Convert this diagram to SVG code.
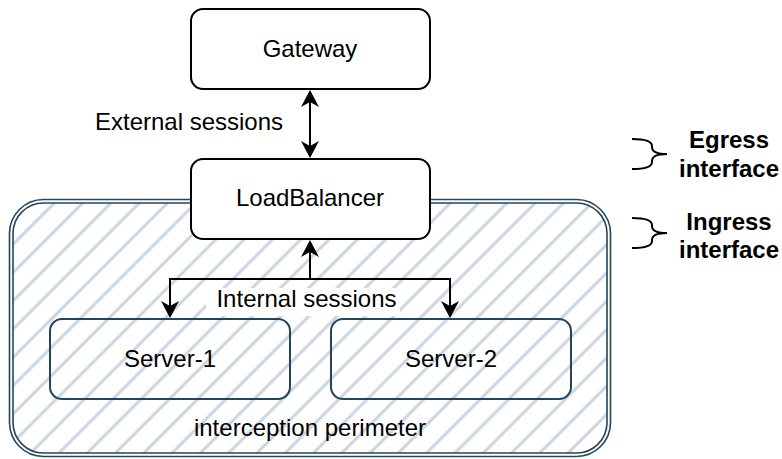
<svg xmlns="http://www.w3.org/2000/svg" width="782" height="459" viewBox="0 0 782 459">
<style>
.t{font-family:"Liberation Sans",Arial,sans-serif;font-size:24px;fill:#000;text-anchor:middle}
.b{font-weight:bold}
.box{fill:#fff;stroke:#000;stroke-width:2}
.srv{fill:none;stroke:#23445d;stroke-width:2}
.per{fill:none;stroke:#23445d;stroke-width:1.6}
.con{fill:none;stroke:#000;stroke-width:2}
.br{fill:none;stroke:#000;stroke-width:2}
</style>
<defs>
<pattern id="hatch" patternUnits="userSpaceOnUse" width="20" height="20" patternTransform="rotate(45)">
<line x1="2" y1="0" x2="2" y2="20" stroke="#c8d4df" stroke-width="3"/>
</pattern>
<marker id="arr" viewBox="0 -9 17 18" refX="5" refY="0" markerWidth="17" markerHeight="18" markerUnits="userSpaceOnUse" orient="auto-start-reverse">
<path d="M17,0 L0,-9 L5,0 L0,9 Z" fill="#000"/>
</marker>
</defs>
<rect width="782" height="459" fill="#fff"/>
<g id="perimeter">
<rect x="13" y="203" width="594" height="250" rx="30.5" fill="url(#hatch)"/>
<rect class="per" x="9.5" y="199.5" width="601" height="257" rx="34"/>
<rect class="per" x="13" y="203" width="594" height="250" rx="30.5"/>
<text class="t" x="310" y="436">interception perimeter</text>
</g>
<g id="gateway">
<rect class="box" x="191" y="9" width="239" height="80" rx="12"/>
<text class="t" x="310" y="57">Gateway</text>
</g>
<g id="loadbalancer">
<rect class="box" x="191" y="159" width="239" height="80" rx="12"/>
<text class="t" x="310" y="206">LoadBalancer</text>
</g>
<g id="server-1">
<rect class="srv" x="50" y="319" width="240" height="80" rx="12"/>
<text class="t" x="170" y="367">Server-1</text>
</g>
<g id="server-2">
<rect class="srv" x="331" y="319" width="240" height="80" rx="12"/>
<text class="t" x="451" y="367">Server-2</text>
</g>
<g id="connectors">
<path class="con" d="M310,102 L310,146" marker-start="url(#arr)" marker-end="url(#arr)"/>
<path class="con" d="M310,279 L310,252" marker-end="url(#arr)"/>
<path class="con" d="M170,306 L170,279 L450,279 L450,306" marker-start="url(#arr)" marker-end="url(#arr)"/>
<text class="t" x="189" y="130">External sessions</text>
<rect x="206" y="288" width="194" height="28" fill="#fff"/>
<text class="t" x="306.5" y="307">Internal sessions</text>
</g>
<g id="egress">
<path class="br" d="M632,139 Q652,139 652,146 L652,147 Q652,154 667,154 Q652,154 652,161 L652,162 Q652,169 632,169"/>
<text class="t b" x="729" y="148">Egress</text>
<text class="t b" x="729" y="177">interface</text>
</g>
<g id="ingress">
<path class="br" d="M632,218 Q652,218 652,225 L652,226 Q652,233 667,233 Q652,233 652,240 L652,241 Q652,248 632,248"/>
<text class="t b" x="729" y="230">Ingress</text>
<text class="t b" x="729" y="258">interface</text>
</g>
</svg>
